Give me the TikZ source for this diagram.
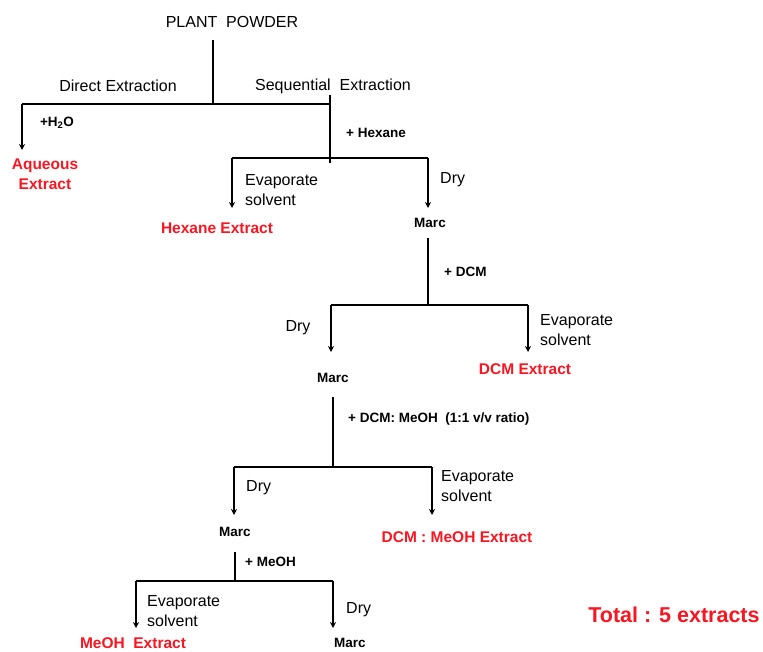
\documentclass[tikz,border=0pt]{standalone}
\usepackage{fontspec}
\setmainfont{Liberation Sans}
\usetikzlibrary{arrows.meta,positioning}
\definecolor{extred}{RGB}{248,22,34}

\tikzset{
  line/.style={line width=1.5pt},
  arr/.style={line, -{Stealth[length=6pt,width=6pt]}},
  txt/.style={font=\fontsize{16}{20}\selectfont, align=left, inner sep=0pt},
  reag/.style={font=\bfseries\fontsize{13.5}{16}\selectfont, inner sep=0pt},
  ext/.style={font=\bfseries\fontsize{15.5}{20}\selectfont, text=extred, align=center, inner sep=0pt},
}

\begin{document}
\begin{tikzpicture}[x=1pt,y=-1pt]
            \useasboundingbox (0,0) rectangle (763,652);

            % labels
            \node[txt] (pp) at (232,22) {PLANT\ \ POWDER};
            \node[txt] (direct) at (118,86) {Direct Extraction};
            \node[txt] (seq) at (333,86) {Sequential\ \ Extraction};
            \node[reag] (water) at (57,123) {+H\textsubscript{2}O};
            \node[ext] (aq) at (45,174) {Aqueous\\Extract};

            \node[reag] (hex) at (376,133) {+ Hexane};
            \node[txt, anchor=west] (evapA) at (245,190) {Evaporate\\solvent};
            \node[txt, anchor=west] (dryA) at (440,180) {Dry};
            \node[ext] (hexext) at (217,228) {Hexane Extract};
            \node[reag] (marcA) at (430,223) {Marc};

            \node[reag, anchor=west] (dcm) at (444,272) {+ DCM};
            \node[txt] (dryB) at (298,328) {Dry};
            \node[txt, anchor=west] (evapB) at (540,330) {Evaporate\\solvent};
            \node[reag] (marcB) at (333,378) {Marc};
            \node[ext] (dcmext) at (525,369) {DCM Extract};

            \node[reag, anchor=west] (mix) at (348,419) {+ DCM: MeOH\ \ (1:1 v/v ratio)};
            \node[txt, anchor=west] (dryC) at (246,488) {Dry};
            \node[txt, anchor=west] (evapC) at (441,486) {Evaporate\\solvent};
            \node[reag] (marcC) at (235,532) {Marc};
            \node[ext] (mixext) at (457,537) {DCM : MeOH Extract};

            \node[reag, anchor=west] (meoh) at (245,562) {+ MeOH};
            \node[txt, anchor=west] (evapD) at (147,611) {Evaporate\\solvent};
            \node[txt, anchor=west] (dryD) at (346,610) {Dry};
            \node[ext] (meohext) at (133,643) {MeOH\ \ Extract};
            \node[reag] (marcD) at (350,643) {Marc};

            \node[ext, font=\bfseries\fontsize{21.5}{24}\selectfont] (total) at (674,615) {Total : 5 extracts};

            % branch points
            \coordinate (s0) at (213,40);
            \coordinate (j0) at (213,104);
            \coordinate (l0) at (22,104);
            \coordinate (r0) at (330,104);
            \coordinate (aqT) at (22,150);

            \coordinate (s1) at (330,95);
            \coordinate (j1) at (330,163);
            \coordinate (l1) at (232,158);
            \coordinate (r1) at (428,158);

            \coordinate (s2) at (428,238);
            \coordinate (l2) at (331,305);
            \coordinate (r2) at (528,305);

            \coordinate (s3) at (333,397);
            \coordinate (l3) at (234,467);
            \coordinate (r3) at (432,467);

            \coordinate (s4) at (235,552);
            \coordinate (l4) at (136,581);
            \coordinate (r4) at (333,581);

            % plant powder
            \draw[line] (s0) -- (j0);
            \draw[line] (l0) -- (r0);
            \draw[arr] (l0) -- (aqT);

            % hexane
            \draw[line] (s1) -- (j1);
            \draw[line] (l1) -- (r1);
            \draw[arr] (l1) -- ++(0,50);
            \draw[arr] (r1) -- ++(0,50);

            % DCM
            \draw[line] (s2) -- (s2 |- l2);
            \draw[line] (l2) -- (r2);
            \draw[arr] (l2) -- ++(0,47);
            \draw[arr] (r2) -- ++(0,47);

            % DCM : MeOH
            \draw[line] (s3) -- (s3 |- l3);
            \draw[line] (l3) -- (r3);
            \draw[arr] (l3) -- ++(0,48);
            \draw[arr] (r3) -- ++(0,48);

            % MeOH
            \draw[line] (s4) -- (s4 |- l4);
            \draw[line] (l4) -- (r4);
            \draw[arr] (l4) -- ++(0,47);
            \draw[arr] (r4) -- ++(0,47);
        \end{tikzpicture}
\end{document}
